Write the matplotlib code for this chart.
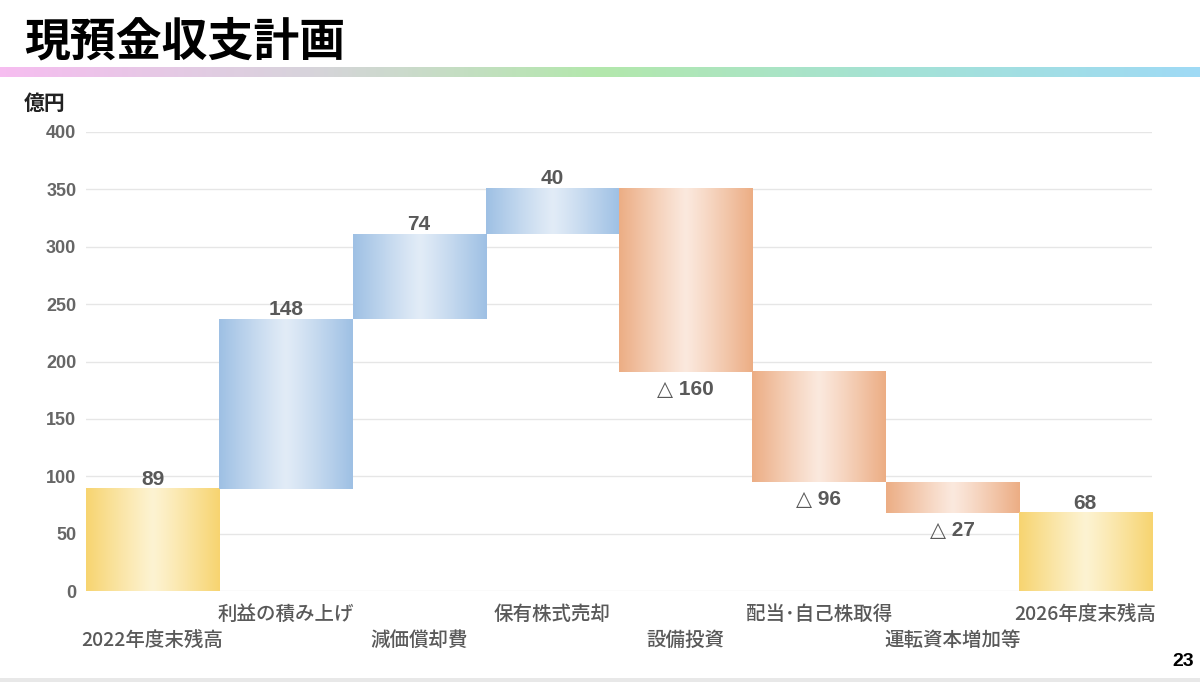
import numpy as np
import matplotlib
matplotlib.use("Agg")
import matplotlib.pyplot as plt
from matplotlib.colors import LinearSegmentedColormap, to_rgb

plt.rcParams['font.family'] = ['Noto Sans CJK JP', 'DejaVu Sans']
LAT = ['Liberation Sans', 'Noto Sans CJK JP', 'DejaVu Sans']
NUM = ['Liberation Sans', 'DejaVu Sans']

# ---- data ----
categories = ["2022年度末残高", "利益の積み上げ", "減価償却費", "保有株式売却",
              "設備投資", "配当･自己株取得", "運転資本増加等", "2026年度末残高"]
values = [89, 148, 74, 40, -160, -96, -27, 68]
kinds = ["total", "up", "up", "up", "down", "down", "down", "total"]
yticks = [0, 50, 100, 150, 200, 250, 300, 350, 400]

title = "現預金収支計画"
unit = "億円"
page = "23"

# ---- styles ----
palette = {
    "total": ("#f7d470", "#fdf3d2"),
    "up": ("#9ec0e4", "#e2ecf7"),
    "down": ("#ecad84", "#fbe9de"),
}
text_gray = "#595959"

W, H, DPI = 1200, 682, 100
fig = plt.figure(figsize=(W / DPI, H / DPI), dpi=DPI)
fig.patch.set_facecolor("white")

# header gradient line
axh = fig.add_axes([0, 1 - 77 / H, 1, 10 / H])
hcm = LinearSegmentedColormap.from_list("hdr", ["#f6bdf0", "#d8d3dc", "#b3e8ac", "#a4e2d6", "#9fdaf5"])
axh.imshow(np.linspace(0, 1, 600)[None, :], cmap=hcm, aspect="auto", extent=[0, 1, 0, 1])
axh.set_axis_off()

# bottom gray band
axb = fig.add_axes([0, 0, 1, 4 / H])
axb.set_facecolor("#e8e8e8")
axb.set_xticks([]); axb.set_yticks([])
for s in axb.spines.values():
    s.set_visible(False)

fig.text(24 / W, 1 - 42 / H, title, fontsize=33, fontweight="bold", color="black",
         ha="left", va="center")
fig.text(24 / W, 1 - 103 / H, unit, fontsize=15, fontweight="bold", color="#222222",
         ha="left", va="center")
fig.text(1194 / W, 1 - 662 / H, page, fontsize=14, fontweight="bold", color="black",
         ha="right", va="center", family=LAT)

ax = fig.add_axes([86 / W, 91 / H, (1152 - 86) / W, (591 - 132) / H])
ax.set_xlim(-0.5, len(categories) - 0.5)
ax.set_ylim(0, 400)
ax.set_yticks(yticks)
ax.set_yticklabels([str(v) for v in yticks], fontsize=13, color="#666666",
                   fontweight="bold", family=LAT)
ax.tick_params(axis="y", length=0, pad=7)
ax.set_xticks([])
for s in ax.spines.values():
    s.set_visible(False)
ax.grid(axis="y", color="#e6e6e6", linewidth=1)
ax.set_axisbelow(True)

# gradient profile (dark edges, light center)
xs = np.linspace(0, 1, 200)
prof = np.abs(xs - 0.5) * 2
prof = prof ** 1.1

running = 0
for i, (cat, v, k) in enumerate(zip(categories, values, kinds)):
    if k == "total":
        bottom, top = 0, v
        running = v
    else:
        start = running
        running = running + v
        bottom, top = min(start, running), max(start, running)
    dark, light = (np.array(to_rgb(c)) for c in palette[k])
    img = light[None, :] * (1 - prof[:, None]) + dark[None, :] * prof[:, None]
    ax.imshow(img[None, :, :], aspect="auto", extent=[i - 0.5, i + 0.5, bottom, top],
              zorder=2, interpolation="bilinear")
    if v >= 0:
        ax.annotate(f"{v}", (i, top), xytext=(0, 0), textcoords="offset points",
                    ha="center", va="bottom", fontsize=15, fontweight="bold", color=text_gray,
                    family=NUM)
    else:
        ax.annotate(f"△ {abs(v)}", (i, bottom), xytext=(0, -6), textcoords="offset points",
                    ha="center", va="top", fontsize=15, fontweight="bold", color=text_gray,
                    family=NUM)
    # category labels in two rows
    dy = -23 if i % 2 == 1 else -49
    ax.annotate(cat, (i, 0), xytext=(0, dy * 72 / DPI), textcoords="offset points",
                ha="center", va="center", fontsize=14, fontweight="medium", color=text_gray,
                annotation_clip=False)

ax.set_xlim(-0.5, len(categories) - 0.5)
ax.set_ylim(0, 400)

fig.savefig("out.png", dpi=DPI, facecolor="white")
